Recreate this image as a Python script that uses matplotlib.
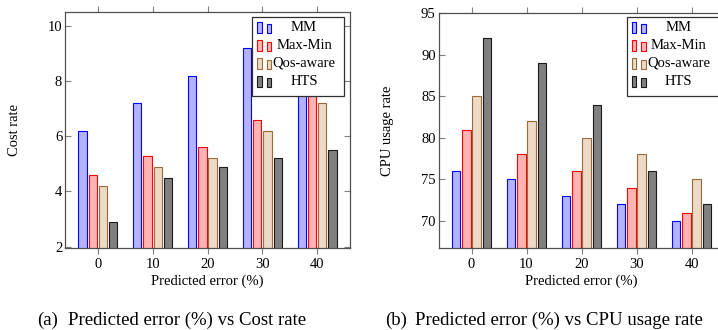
import matplotlib
matplotlib.use("Agg")
import matplotlib.pyplot as plt
from matplotlib.patches import Rectangle
import numpy as np

W, H = 718, 330
FONT = "Liberation Serif"

# data
errors = [0, 10, 20, 30, 40]
series_names = ["MM", "Max-Min", "Qos-aware", "HTS"]

cost_mm = [6.2, 7.2, 8.2, 9.2, 10.2]
cost_maxmin = [4.6, 5.3, 5.6, 6.6, 7.8]
cost_qos = [4.2, 4.9, 5.2, 6.2, 7.2]
cost_hts = [2.9, 4.5, 4.9, 5.2, 5.5]

cpu_mm = [76, 75, 73, 72, 70]
cpu_maxmin = [81, 78, 76, 74, 71]
cpu_qos = [85, 82, 80, 78, 75]
cpu_hts = [92, 89, 84, 76, 72]

cost_yticks = [2, 4, 6, 8, 10]
cpu_yticks = [70, 75, 80, 85, 90, 95]

FACES = ["#b3b3ff", "#ffb3b3", "#ecd9c6", "#808080"]
EDGES = ["#0000ff", "#ff0000", "#9c6b3c", "#1a1a1a"]
OFFSETS = [-2.8, -0.93, 0.93, 2.8]
BAR_W = 1.5
FS = 10.5

plt.rcParams["font.family"] = [FONT, "DejaVu Serif"]
plt.rcParams["font.size"] = FS


def px_rect(x0, y_top, x1, y_bot):
    # pixel box (origin top-left) -> figure fraction rect
    return [x0 / W, 1 - y_bot / H, (x1 - x0) / W, (y_bot - y_top) / H]


def draw_legend(fig, box_left, box_top):
    fig.add_artist(Rectangle((box_left / W, 1 - (box_top + 79.3) / H), 92 / W, 79.3 / H,
                             transform=fig.transFigure, facecolor="white",
                             edgecolor="#303030", lw=0.9, zorder=5))
    for i, name in enumerate(series_names):
        yc = box_top + 10.6 + 18 * i
        base = yc + 5.4
        for dx, h in [(5.3, 11), (14.7, 8.7)]:
            fig.add_artist(Rectangle(((box_left + dx) / W, 1 - base / H), 4.4 / W, h / H,
                                     transform=fig.transFigure, facecolor=FACES[i],
                                     edgecolor=EDGES[i], lw=0.8, zorder=6))
        fig.text((box_left + 52) / W, 1 - yc / H, name, ha="center", va="center",
                 fontsize=FS, zorder=6)


def bar_panel(ax, values, yticks, ylim, ylabel):
    for i, vals in enumerate(values):
        ax.bar(np.array(errors) + OFFSETS[i], vals, width=BAR_W, bottom=0,
               color=FACES[i], edgecolor=EDGES[i], lw=0.8, zorder=2)
    ax.set_xlim(-6, 46)
    ax.set_ylim(*ylim)
    ax.set_xticks(errors)
    ax.set_yticks(yticks)
    for s in ax.spines.values():
        s.set_color("#505050")
        s.set_linewidth(0.9)
    ax.tick_params(axis="x", direction="out", top=True, length=4.5, width=0.8,
                   color="#808080", pad=2.5, labelsize=FS)
    ax.tick_params(axis="y", direction="in", right=True, length=4.5, width=0.8,
                   color="#808080", pad=2, labelsize=FS)
    ax.set_xlabel("Predicted error (%)", fontsize=FS, va="center")
    ax.set_ylabel(ylabel, fontsize=FS, va="center")


fig = plt.figure(figsize=(W / 100, H / 100), dpi=100)

ax1 = fig.add_axes(px_rect(65, 12.3, 350, 248))
bar_panel(ax1, [cost_mm, cost_maxmin, cost_qos, cost_hts], cost_yticks, (1.95, 10.5), "Cost rate")
ax1.xaxis.set_label_coords(0.5, -(281.7 - 248) / 235.7)
ax1.yaxis.set_label_coords((15 - 65) / 285, 0.5)

ax2 = fig.add_axes(px_rect(438.5, 13.3, 724.5, 248.3))
bar_panel(ax2, [cpu_mm, cpu_maxmin, cpu_qos, cpu_hts], cpu_yticks, (66.7, 95), "CPU usage rate")
ax2.xaxis.set_label_coords(0.5, -(281.7 - 248.3) / 235)
ax2.yaxis.set_label_coords((388 - 438.5) / 286, 0.5)

draw_legend(fig, 252, 16.7)
draw_legend(fig, 626.5, 16.7)

# sub-captions
CAP = 13.5
fig.text(36.7 / W, 1 - 320 / H, "(a)", ha="left", va="center", fontsize=CAP)
fig.text(68 / W, 1 - 320 / H, "Predicted error (%) vs Cost rate", ha="left", va="center", fontsize=CAP)
fig.text(385 / W, 1 - 320 / H, "(b)", ha="left", va="center", fontsize=CAP)
fig.text(415 / W, 1 - 320 / H, "Predicted error (%) vs CPU usage rate", ha="left", va="center", fontsize=CAP)

fig.savefig("out.png", dpi=100)
